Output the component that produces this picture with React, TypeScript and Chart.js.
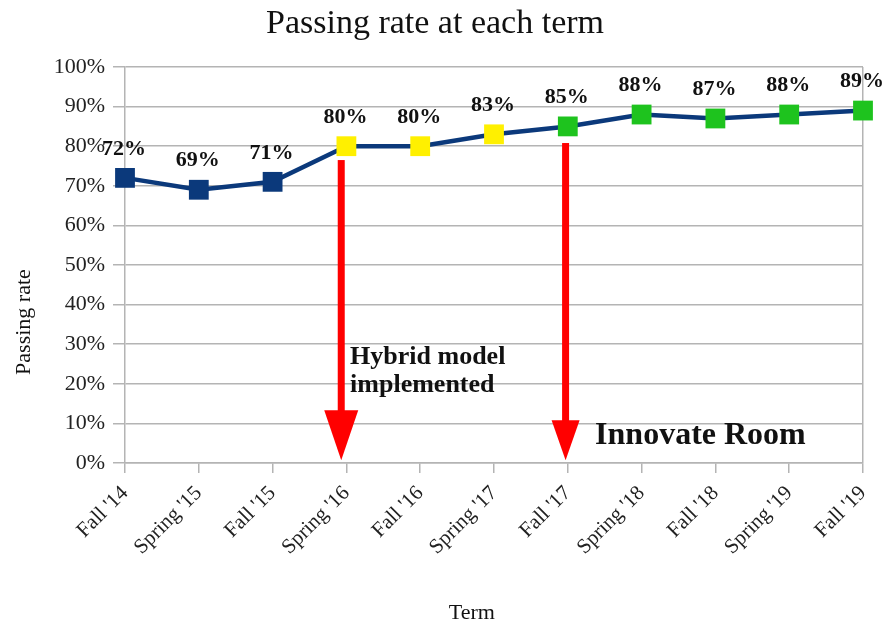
import React, { useEffect, useRef } from "react";
import { Chart, registerables } from "chart.js";

Chart.register(...registerables);

const terms = ["Fall '14", "Spring '15", "Fall '15", "Spring '16", "Fall '16", "Spring '17", "Fall '17", "Spring '18", "Fall '18", "Spring '19", "Fall '19"];
const passingRate = [72, 69, 71, 80, 80, 83, 85, 88, 87, 88, 89];
const phase = ["before", "before", "before", "hybrid", "hybrid", "hybrid", "room", "room", "room", "room", "room"];
const yTicks = [0, 10, 20, 30, 40, 50, 60, 70, 80, 90, 100];

// annotation arrows: category position (index) and value range
const arrowAt = [2.93, 5.97];
const arrowFrom = [76.5, 80.8];
const arrowTo = [0.7, 0.7];

const noteLines = [["Hybrid model", "implemented"], ["Innovate Room"]];
const noteAt = [3.05, 6.37];
const noteValue = [26.8, 6.8];

const FONT = "'Liberation Serif', 'Times New Roman', serif";
const NAVY = "#0b397b";
const phaseColor: Record<string, string> = { before: "#0b397b", hybrid: "#fff000", room: "#1ec31e" };
const GRID = "#b4b4b4";

const overlay = {
  id: "overlay",
  afterDatasetsDraw(chart: any) {
    const ctx = chart.ctx;
    const xs = chart.scales.x;
    const ys = chart.scales.y;
    ctx.save();
    // arrows
    const heads = [
      { w: 34, h: 50 },
      { w: 28, h: 40 },
    ];
    arrowAt.forEach((a, i) => {
      const x = xs.getPixelForValue(a);
      const y0 = ys.getPixelForValue(arrowFrom[i]);
      const y1 = ys.getPixelForValue(arrowTo[i]);
      const hd = heads[i];
      ctx.fillStyle = "#ff0000";
      ctx.fillRect(x - 3.5, y0, 7, y1 - hd.h - y0 + 2);
      ctx.beginPath();
      ctx.moveTo(x - hd.w / 2, y1 - hd.h);
      ctx.lineTo(x + hd.w / 2, y1 - hd.h);
      ctx.lineTo(x, y1);
      ctx.closePath();
      ctx.fill();
    });
    // data labels
    const meta = chart.getDatasetMeta(0);
    ctx.fillStyle = "#111";
    ctx.font = `bold 22px ${FONT}`;
    ctx.textAlign = "center";
    ctx.textBaseline = "middle";
    meta.data.forEach((pt: any, i: number) => {
      ctx.fillText(passingRate[i] + "%", pt.x - 1, pt.y - 29);
    });
    // notes
    ctx.textAlign = "left";
    noteLines.forEach((lines, i) => {
      const x = xs.getPixelForValue(noteAt[i]);
      const y = ys.getPixelForValue(noteValue[i]);
      ctx.font = i === 0 ? `bold 26px ${FONT}` : `bold 32px ${FONT}`;
      lines.forEach((t, j) => ctx.fillText(t, x, y + j * 28));
    });
    // titles
    ctx.fillStyle = "#111";
    ctx.textAlign = "center";
    ctx.font = `34px ${FONT}`;
    ctx.fillText("Passing rate at each term", 435, 24);
    ctx.font = `22px ${FONT}`;
    ctx.fillText("Term", xs.getPixelForValue(4.7), chart.height - 12);
    ctx.save();
    ctx.translate(24, ys.getPixelForValue(35.6));
    ctx.rotate(-Math.PI / 2);
    ctx.fillText("Passing rate", 0, 0);
    ctx.restore();
    ctx.restore();
  },
};

export default function App() {
  const ref = useRef<HTMLCanvasElement>(null);
  useEffect(() => {
    document.body.style.margin = "0";
    const chart = new Chart(ref.current!, {
      type: "line",
      data: {
        labels: terms,
        datasets: [
          {
            data: passingRate,
            borderColor: NAVY,
            borderWidth: 4.5,
            pointStyle: "rect",
            pointRadius: 14,
            pointHoverRadius: 14,
            pointBorderWidth: 0,
            pointBackgroundColor: phase.map((p) => phaseColor[p]),
            pointBorderColor: phase.map((p) => phaseColor[p]),
            tension: 0,
          },
        ],
      },
      options: {
        responsive: false,
        animation: false,
        devicePixelRatio: 1,
        layout: { padding: { top: 67, right: 23, left: 0, bottom: 0 } },
        plugins: { legend: { display: false }, title: { display: false }, tooltip: { enabled: false } },
        scales: {
          x: {
            type: "category",
            offset: false,
            afterFit: (s: any) => {
              s.height = 162;
              s.paddingRight = 0;
              s.paddingLeft = 0;
            },
            grid: {
              drawOnChartArea: true,
              color: (c: any) => (c.index === terms.length - 1 ? GRID : "rgba(0,0,0,0)"),
              tickColor: GRID,
              tickLength: 10,
              lineWidth: 1.5,
            },
            border: { color: GRID, width: 1.5 },
            ticks: {
              minRotation: 45,
              maxRotation: 45,
              autoSkip: false,
              padding: 8,
              color: "#222",
              font: { family: FONT, size: 21 },
            },
          },
          y: {
            min: 0,
            max: 100,
            afterFit: (s: any) => {
              s.width = 125;
            },
            afterBuildTicks: (s: any) => {
              s.ticks = yTicks.map((v) => ({ value: v }));
            },
            grid: { color: GRID, tickLength: 12, lineWidth: 1.5 },
            border: { color: GRID, width: 1.5 },
            ticks: {
              padding: 8,
              color: "#222",
              font: { family: FONT, size: 22 },
              callback: (v: any) => v + "%",
            },
          },
        },
      },
      plugins: [overlay],
    });
    return () => chart.destroy();
  }, []);
  return (
    <div style={{ width: 886, height: 625 }}>
      <canvas ref={ref} width={886} height={625} />
    </div>
  );
}
